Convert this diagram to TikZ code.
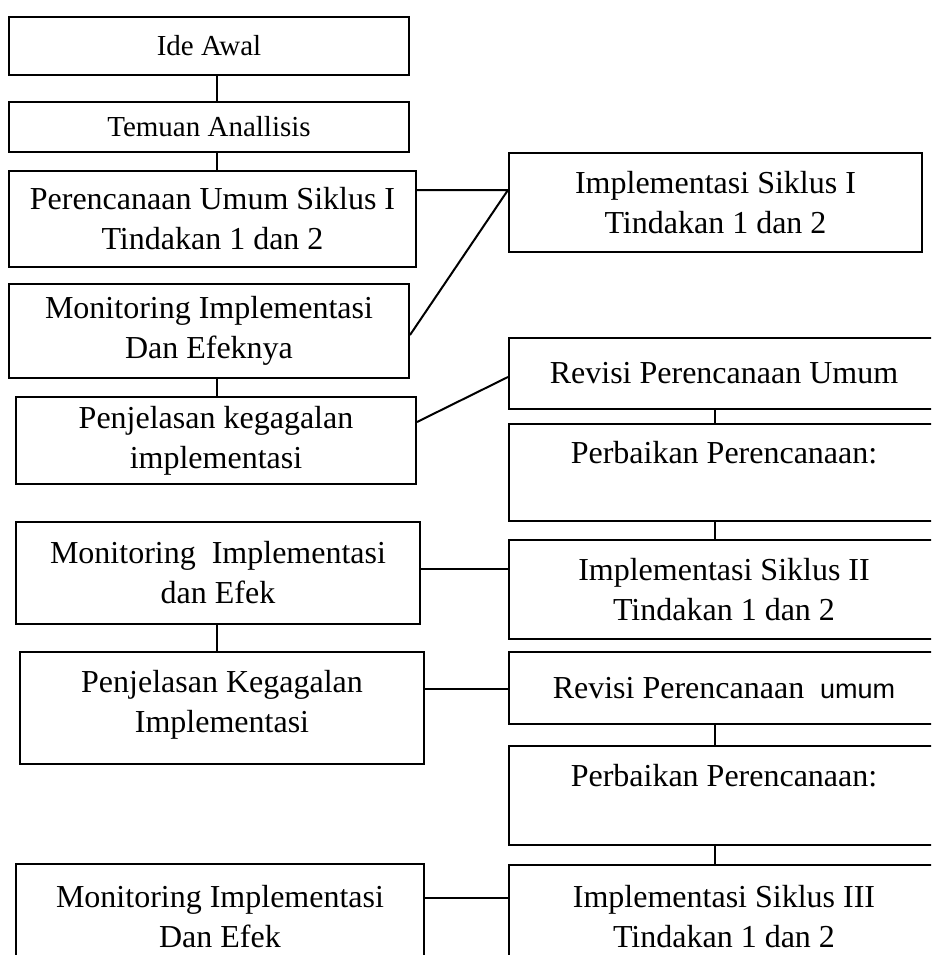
\documentclass[tikz,border=0pt]{standalone}
\usepackage{fontspec}
\setmainfont{Liberation Serif}
\newfontfamily\arialf{Liberation Sans}
\begin{document}
\begin{tikzpicture}[x=1pt,y=-1pt,
  box/.style={draw,line width=2pt,inner sep=0pt,anchor=north west,align=center,font=\fontsize{32}{40}\selectfont},
  smallbox/.style={box,font=\fontsize{29}{36}\selectfont},
  conn/.style={line width=2pt}]
\useasboundingbox (0,0) rectangle (931,955);
\clip (0,0) rectangle (931,955);
\coordinate (lx) at (217,0);
\coordinate (rx) at (715,0);
% left column
\node[smallbox,minimum width=400pt,minimum height=58pt] (ide) at (8,16) {Ide Awal};
\node[smallbox,minimum width=400pt,minimum height=50pt] (tem) at (8,101) {Temuan Anallisis};
\node[box,minimum width=407pt,minimum height=96pt] (pren) at (8,170) {Perencanaan Umum Siklus I\\Tindakan 1 dan 2};
\node[box,minimum width=400pt,minimum height=94pt] (mon1) at (8,283) {Monitoring Implementasi\\Dan Efeknya};
\node[box,minimum width=400pt,minimum height=87pt] (pen1) at (15,396) {Penjelasan kegagalan\\implementasi};
\node[box,minimum width=404pt,minimum height=102pt] (mon2) at (15,521) {Monitoring\ \ Implementasi\\dan Efek};
\node[box,minimum width=404pt,minimum height=112pt] (pen2) at (19,651) {Penjelasan Kegagalan\\Implementasi\\[-26pt]\mbox{}};
\node[box,minimum width=408pt,minimum height=105pt] (mon3) at (15,863) {Monitoring Implementasi\\Dan Efek};
% right column
\node[box,minimum width=413pt,minimum height=99pt] (impl1) at (508,152) {Implementasi Siklus I\\Tindakan 1 dan 2};
\node[box,minimum width=430pt,minimum height=71pt] (rev1) at (508,337) {Revisi Perencanaan Umum};
\node[box,minimum width=430pt,minimum height=97pt] (perb1) at (508,423) {Perbaikan Perencanaan:\\~};
\node[box,minimum width=430pt,minimum height=99pt] (impl2) at (508,539) {Implementasi Siklus II\\Tindakan 1 dan 2};
\node[box,minimum width=430pt,minimum height=72pt] (rev2) at (508,651) {Revisi Perencanaan\ \ {\arialf\fontsize{27}{40}\selectfont umum}};
\node[box,minimum width=430pt,minimum height=99pt] (perb2) at (508,745) {Perbaikan Perencanaan:\\~};
\node[box,minimum width=430pt,minimum height=104pt] (impl3) at (508,864) {Implementasi Siklus III\\Tindakan 1 dan 2};
% vertical connectors
\draw[conn] (ide.south -| lx) -- (tem.north -| lx);
\draw[conn] (tem.south -| lx) -- (pren.north -| lx);
\draw[conn] (mon1.south -| lx) -- (pen1.north -| lx);
\draw[conn] (mon2.south -| lx) -- (pen2.north -| lx);
\draw[conn] (rev1.south -| rx) -- (perb1.north -| rx);
\draw[conn] (perb1.south -| rx) -- (impl2.north -| rx);
\draw[conn] (rev2.south -| rx) -- (perb2.north -| rx);
\draw[conn] (perb2.south -| rx) -- (impl3.north -| rx);
% cross connectors
\draw[conn] (pren.east |- 0,190) -- (impl1.west |- 0,190) -- (mon1.east |- 0,335);
\draw[conn] (pen1.east |- 0,422) -- (rev1.west |- 0,377);
\draw[conn] (mon2.east |- 0,569) -- (impl2.west |- 0,569);
\draw[conn] (pen2.east |- 0,689) -- (rev2.west |- 0,689);
\draw[conn] (mon3.east |- 0,898) -- (impl3.west |- 0,898);
\end{tikzpicture}
\end{document}
